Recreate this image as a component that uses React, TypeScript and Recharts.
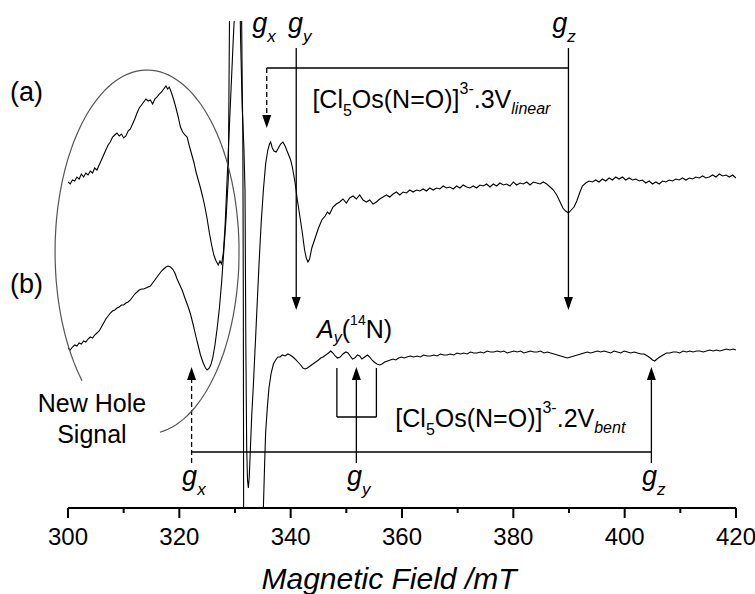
import React from "react";
import {
  LineChart,
  Line,
  XAxis,
  YAxis,
  ReferenceLine,
  ReferenceDot,
} from "recharts";

// EPR traces, [field in mT, signal in arbitrary units]
const traceA: [number, number][] = [
  [300.0, 326], [300.4, 324], [300.8, 328], [301.2, 327], [301.6, 331], [302.0, 329],
  [302.4, 334], [302.8, 331], [303.2, 335], [303.6, 333], [304.0, 337], [304.4, 335],
  [304.8, 340], [305.2, 338], [305.6, 343], [306.0, 348], [306.4, 353], [306.8, 358],
  [307.2, 363], [307.6, 366], [308.0, 371], [308.4, 373], [308.8, 375], [309.2, 372],
  [309.6, 374], [310.0, 370], [310.4, 372], [310.8, 377], [311.2, 379], [311.6, 384],
  [312.0, 389], [312.4, 395], [312.8, 400], [313.2, 403], [313.6, 406], [314.0, 409],
  [314.4, 407], [314.8, 408], [315.2, 404], [315.6, 409], [316.0, 411], [316.4, 414],
  [316.8, 416], [317.2, 419], [317.6, 422], [317.9, 419], [318.2, 421], [318.6, 415],
  [319.0, 408], [319.4, 400], [319.8, 391], [320.2, 381], [320.6, 376], [321.0, 373],
  [321.4, 371], [321.8, 362], [322.2, 354], [322.6, 346], [323.0, 336], [323.4, 328],
  [323.8, 320], [324.2, 311], [324.6, 301], [325.0, 289], [325.4, 275], [325.8, 263],
  [326.2, 253], [326.6, 247], [327.0, 243], [327.3, 247], [327.6, 244], [327.9, 255],
  [328.2, 280], [328.5, 318], [328.9, 370], [329.3, 420], [329.7, 470], [330.1, 515],
  [330.5, 560], [330.8, 540], [331.0, 470], [331.3, 400], [331.6, 360], [331.8, 318],
  [331.95, 160], [332.1, 60], [332.25, 28], [332.4, 20], [332.55, 30], [332.7, 50],
  [333.0, 92], [333.3, 123], [333.8, 182], [334.3, 242], [334.7, 285], [335.1, 318],
  [335.5, 344], [335.9, 358], [336.2, 364], [336.4, 366], [336.7, 360], [337.0, 357],
  [337.4, 356], [337.8, 360], [338.2, 364], [338.6, 366], [339.0, 362], [339.5, 355],
  [340.0, 348], [340.3, 341], [340.8, 325], [341.2, 308], [341.7, 290], [342.1, 275],
  [342.5, 258], [342.8, 250], [343.1, 246], [343.4, 249], [343.8, 260], [344.4, 270],
  [345.0, 280], [345.6, 288], [346.2, 292], [346.6, 296], [347.0, 294], [347.6, 301],
  [348.2, 304], [348.8, 306], [349.4, 309], [350.0, 305], [350.6, 310], [351.2, 312],
  [351.8, 309], [352.4, 313], [353.0, 308], [353.6, 306], [354.2, 308], [354.8, 304],
  [355.4, 306], [356.0, 309], [356.6, 311], [357.2, 313], [357.8, 311], [358.4, 314],
  [359.0, 316], [359.6, 313], [360.2, 316], [360.8, 315], [361.4, 318], [362.0, 316],
  [362.6, 318], [363.2, 317], [363.8, 319], [364.4, 317], [365.0, 320], [365.6, 318],
  [366.2, 320], [366.8, 319], [367.4, 322], [368.0, 320], [368.6, 321], [369.2, 319],
  [369.8, 322], [370.4, 320], [371.0, 323], [371.6, 321], [372.2, 320], [372.8, 322],
  [373.4, 320], [374.0, 323], [374.6, 322], [375.2, 324], [375.8, 321], [376.4, 324],
  [377.0, 322], [377.6, 325], [378.2, 323], [378.8, 324], [379.4, 322], [380.0, 326],
  [380.6, 323], [381.2, 325], [381.8, 324], [382.4, 326], [383.0, 323], [383.6, 326],
  [384.2, 325], [384.8, 324], [385.4, 326], [386.0, 324], [386.6, 321], [387.2, 318],
  [387.8, 313], [388.4, 306], [388.9, 300], [389.4, 297], [389.9, 295], [390.4, 298],
  [390.9, 301], [391.4, 307], [391.9, 315], [392.4, 322], [393.0, 325], [393.6, 327],
  [394.2, 326], [394.8, 328], [395.4, 326], [396.0, 329], [396.6, 327], [397.2, 330],
  [397.8, 328], [398.4, 331], [399.0, 329], [399.6, 331], [400.2, 328], [400.8, 330],
  [401.4, 328], [402.0, 329], [402.6, 327], [403.2, 328], [403.8, 325], [404.4, 327],
  [405.0, 324], [405.6, 326], [406.2, 324], [406.8, 327], [407.4, 326], [408.0, 328],
  [408.6, 327], [409.2, 329], [409.8, 328], [410.4, 330], [411.0, 328], [411.6, 330],
  [412.2, 329], [412.8, 331], [413.4, 330], [414.0, 332], [414.6, 330], [415.2, 331],
  [415.8, 333], [416.4, 331], [417.0, 334], [417.6, 332], [418.2, 333], [418.8, 331],
  [419.4, 333], [420.0, 330],
];

const traceB: [number, number][] = [
  [300.0, 160], [300.4, 158], [300.8, 161], [301.2, 163], [301.6, 162], [302.0, 165],
  [302.4, 164], [302.8, 167], [303.2, 166], [303.6, 169], [304.0, 171], [304.4, 170],
  [304.8, 173], [305.2, 175], [305.6, 177], [306.0, 181], [306.4, 185], [306.8, 189],
  [307.2, 192], [307.6, 195], [308.0, 197], [308.4, 198], [308.8, 200], [309.2, 201],
  [309.6, 203], [310.0, 203], [310.4, 205], [310.8, 206], [311.2, 208], [311.6, 211],
  [312.0, 214], [312.4, 216], [312.8, 218], [313.2, 219], [313.6, 219], [314.0, 220],
  [314.4, 221], [314.8, 222], [315.2, 225], [315.6, 228], [316.0, 231], [316.4, 234],
  [316.8, 237], [317.2, 239], [317.6, 241], [318.0, 242], [318.4, 241], [318.8, 239],
  [319.2, 235], [319.6, 229], [320.0, 224], [320.5, 218], [321.0, 210], [321.6, 201],
  [322.0, 194], [322.5, 183], [323.0, 171], [323.4, 162], [323.8, 153], [324.3, 145],
  [324.7, 140], [325.0, 138], [325.4, 140], [325.7, 144], [326.0, 150], [326.4, 163],
  [326.8, 180], [327.2, 200], [327.6, 226], [328.0, 258], [328.4, 290], [328.8, 330],
  [329.0, 480], [329.2, 650], [329.6, 900], [330.0, 1000], [330.4, 950], [330.8, 750],
  [331.1, 550], [331.3, 420], [331.4, 380], [331.5, 200], [331.55, 0], [331.8, -300],
  [332.5, -600], [333.3, -700], [334.0, -500], [334.6, -200], [335.0, -30], [335.1, 0],
  [335.3, 40], [335.5, 75], [335.8, 100], [336.1, 120], [336.5, 135], [336.9, 144],
  [337.3, 148], [337.7, 151], [338.1, 151], [338.5, 153], [339.0, 152], [339.5, 154],
  [339.9, 153], [340.4, 151], [340.8, 149], [341.3, 146], [341.8, 143], [342.2, 140],
  [342.6, 139], [343.0, 140], [343.5, 142], [344.0, 144], [344.5, 146], [345.0, 148],
  [345.4, 150], [345.8, 151], [346.3, 153], [346.8, 155], [347.2, 157], [347.6, 155],
  [348.0, 152], [348.4, 150], [348.9, 151], [349.4, 154], [349.9, 156], [350.3, 155],
  [350.7, 152], [351.1, 149], [351.5, 150], [352.0, 153], [352.4, 152], [352.8, 149],
  [353.3, 151], [353.8, 153], [354.2, 151], [354.6, 148], [355.0, 146], [355.5, 144],
  [356.0, 143], [356.4, 144], [356.9, 146], [357.4, 147], [357.9, 148], [358.4, 149],
  [358.9, 148], [359.4, 150], [359.9, 151], [360.4, 150], [360.9, 151], [361.5, 152],
  [362.1, 151], [362.7, 152], [363.3, 151], [363.9, 153], [364.5, 152], [365.1, 152],
  [365.7, 153], [366.3, 152], [366.9, 154], [367.5, 153], [368.1, 153], [368.7, 154],
  [369.3, 153], [369.9, 155], [370.5, 154], [371.1, 155], [371.7, 154], [372.3, 156],
  [372.9, 155], [373.5, 155], [374.1, 156], [374.7, 155], [375.3, 157], [375.9, 156],
  [376.5, 156], [377.1, 157], [377.7, 156], [378.3, 157], [378.9, 155], [379.5, 156],
  [380.1, 157], [380.7, 156], [381.3, 157], [381.9, 155], [382.5, 156], [383.1, 157],
  [383.7, 156], [384.3, 156], [384.9, 157], [385.5, 155], [386.1, 156], [386.7, 155],
  [387.3, 154], [387.9, 153], [388.5, 152], [389.1, 151], [389.7, 150], [390.3, 151],
  [390.9, 152], [391.5, 153], [392.1, 154], [392.7, 155], [393.3, 156], [393.9, 155],
  [394.5, 156], [395.1, 157], [395.7, 156], [396.3, 157], [396.9, 156], [397.5, 155],
  [398.1, 157], [398.7, 156], [399.3, 155], [399.9, 157], [400.5, 156], [401.1, 155],
  [401.7, 156], [402.3, 155], [402.9, 154], [403.5, 154], [404.1, 152], [404.6, 150],
  [405.0, 148], [405.4, 147], [405.8, 149], [406.3, 151], [406.9, 153], [407.5, 155],
  [408.1, 155], [408.7, 156], [409.3, 156], [409.9, 155], [410.5, 157], [411.1, 156],
  [411.7, 157], [412.3, 156], [412.9, 157], [413.5, 157], [414.1, 156], [414.7, 157],
  [415.3, 158], [415.9, 157], [416.5, 158], [417.1, 157], [417.7, 158], [418.3, 159],
  [418.9, 158], [419.5, 159], [420.0, 158],
];

const fieldTicks = [300, 310, 320, 330, 340, 350, 360, 370, 380, 390, 400, 410, 420];

// g-tensor positions (mT)
const gLinear = { x: 335.7, y: 341.0, z: 389.9 };
const gBent = { x: 322.2, y: 351.8, z: 404.8 };
const nitrogenSplit = [348.3, 355.4];

const dataA = traceA.map(([field, a]) => ({ field, a }));
const dataB = traceB.map(([field, b]) => ({ field, b }));

const FONT = "'Liberation Sans', Arial, Helvetica, sans-serif";

function FieldTick(props: any) {
  const { x, y, payload } = props;
  const major = payload.value % 20 === 0;
  return (
    <g>
      <line x1={x} x2={x} y1={y} y2={y + (major ? 10 : 5)} stroke="#000" strokeWidth={2} />
      {major && (
        <text x={x} y={y + 37} textAnchor="middle" fontSize={24} fontFamily={FONT} fill="#000">
          {payload.value}
        </text>
      )}
    </g>
  );
}

const arrow = (dashed: boolean) => (props: any) => {
  const { x1, y1, x2, y2 } = props;
  const len = Math.hypot(x2 - x1, y2 - y1) || 1;
  const dx = (x2 - x1) / len;
  const dy = (y2 - y1) / len;
  const bx = x2 - dx * 13;
  const by = y2 - dy * 13;
  const pts = `${x2},${y2} ${bx - dy * 4.5},${by + dx * 4.5} ${bx + dy * 4.5},${by - dx * 4.5}`;
  return (
    <g>
      <line x1={x1} y1={y1} x2={bx} y2={by} stroke="#000" strokeWidth={1.3}
        strokeDasharray={dashed ? "5 3" : undefined} />
      <polygon points={pts} fill="#000" />
    </g>
  );
};

const plainLine = (props: any) => (
  <line x1={props.x1} y1={props.y1} x2={props.x2} y2={props.y2} stroke="#000" strokeWidth={1.3} />
);

const gLabel = (axis: string) => (props: any) => (
  <text x={props.cx} y={props.cy} fontSize={27} fontStyle="italic" fontFamily={FONT} fill="#000">
    g<tspan fontSize={17} dy={10}>{axis}</tspan>
  </text>
);

const plainText = (label: string, anchor: string = "start", size = 25) => (props: any) => (
  <text x={props.cx} y={props.cy} fontSize={size} textAnchor={anchor} fontFamily={FONT} fill="#000">
    {label}
  </text>
);

const chemLabel = (count: string, kind: string) => (props: any) => (
  <text x={props.cx} y={props.cy} fontSize={25} fontFamily={FONT} fill="#000">
    [Cl<tspan fontSize={16} dy={8}>5</tspan>
    <tspan dy={-8}>Os(N=O)]</tspan>
    <tspan fontSize={16} dy={-14}>3-</tspan>
    <tspan dy={14}>.{count}V</tspan>
    <tspan fontSize={16} fontStyle="italic" dy={6}>{kind}</tspan>
  </text>
);

const hyperfineLabel = (props: any) => (
  <text x={props.cx} y={props.cy} fontSize={25} fontFamily={FONT} fill="#000">
    <tspan fontStyle="italic">A</tspan>
    <tspan fontSize={16} fontStyle="italic" dy={5}>y</tspan>
    <tspan dy={-5}>(</tspan>
    <tspan fontSize={14} dy={-13}>14</tspan>
    <tspan dy={13}>N)</tspan>
  </text>
);

// ellipse around the new hole signal, open at the lower left
const holeEllipse = (props: any) => {
  const rx = 92;
  const ry = 182;
  const t0 = (135 * Math.PI) / 180;
  const t1 = (442 * Math.PI) / 180;
  const pts: string[] = [];
  for (let i = 0; i <= 120; i++) {
    const t = t0 + ((t1 - t0) * i) / 120;
    pts.push(`${(props.cx + rx * Math.cos(t)).toFixed(1)},${(props.cy + ry * Math.sin(t)).toFixed(1)}`);
  }
  return <polyline points={pts.join(" ")} fill="none" stroke="#555" strokeWidth={1.2} />;
};

export default function App() {
  return (
    <div style={{ position: "absolute", left: 0, top: 0, background: "#fff" }}>
      <LineChart width={755} height={594} margin={{ top: 21, right: 19, left: 68, bottom: 0 }}>
        <XAxis
          dataKey="field"
          type="number"
          domain={[300, 420]}
          ticks={fieldTicks}
          interval={0}
          height={86}
          tickSize={0}
          tickMargin={0}
          tickLine={false}
          tick={<FieldTick />}
          axisLine={{ stroke: "#000", strokeWidth: 2 }}
          allowDataOverflow
          label={{
            content: (p: any) => (
              <text
                x={p.viewBox.x + p.viewBox.width / 2 - 13}
                y={p.viewBox.y + 81}
                textAnchor="middle"
                fontSize={30}
                fontStyle="italic"
                fontFamily={FONT}
                fill="#000"
              >
                Magnetic Field /mT
              </text>
            ),
          }}
        />
        <YAxis type="number" domain={[0, 487]} hide allowDataOverflow />

        <Line data={dataA} dataKey="a" stroke="#000" strokeWidth={1.1} dot={false} isAnimationActive={false} />
        <Line data={dataB} dataKey="b" stroke="#000" strokeWidth={1.1} dot={false} isAnimationActive={false} />

        {/* linear species */}
        <ReferenceLine ifOverflow="visible" segment={[{ x: gLinear.x, y: 440 }, { x: gLinear.z, y: 440 }]} shape={plainLine} />
        <ReferenceLine ifOverflow="visible" segment={[{ x: gLinear.x, y: 440 }, { x: gLinear.x, y: 380 }]} shape={arrow(true)} />
        <ReferenceLine ifOverflow="visible" segment={[{ x: gLinear.y, y: 460 }, { x: gLinear.y, y: 198 }]} shape={arrow(false)} />
        <ReferenceLine ifOverflow="visible" segment={[{ x: gLinear.z, y: 460 }, { x: gLinear.z, y: 198 }]} shape={arrow(false)} />
        <ReferenceDot ifOverflow="visible" x={333.1} y={476} shape={gLabel("x")} />
        <ReferenceDot ifOverflow="visible" x={339.5} y={476} shape={gLabel("y")} />
        <ReferenceDot ifOverflow="visible" x={387.0} y={476} shape={gLabel("z")} />
        <ReferenceDot ifOverflow="visible" x={343.9} y={400} shape={chemLabel("3", "linear")} />

        {/* bent species */}
        <ReferenceLine ifOverflow="visible" segment={[{ x: gBent.x, y: 56 }, { x: gBent.z, y: 56 }]} shape={plainLine} />
        <ReferenceLine ifOverflow="visible" segment={[{ x: gBent.x, y: 45 }, { x: gBent.x, y: 141 }]} shape={arrow(true)} />
        <ReferenceLine ifOverflow="visible" segment={[{ x: gBent.y, y: 45 }, { x: gBent.y, y: 141 }]} shape={arrow(false)} />
        <ReferenceLine ifOverflow="visible" segment={[{ x: gBent.z, y: 45 }, { x: gBent.z, y: 141 }]} shape={arrow(false)} />
        <ReferenceLine ifOverflow="visible" segment={[{ x: nitrogenSplit[0], y: 140 }, { x: nitrogenSplit[0], y: 91 }]} shape={plainLine} />
        <ReferenceLine ifOverflow="visible" segment={[{ x: nitrogenSplit[0], y: 91 }, { x: nitrogenSplit[1], y: 91 }]} shape={plainLine} />
        <ReferenceLine ifOverflow="visible" segment={[{ x: nitrogenSplit[1], y: 91 }, { x: nitrogenSplit[1], y: 140 }]} shape={plainLine} />
        <ReferenceDot ifOverflow="visible" x={320.5} y={23.5} shape={gLabel("x")} />
        <ReferenceDot ifOverflow="visible" x={350.1} y={23.5} shape={gLabel("y")} />
        <ReferenceDot ifOverflow="visible" x={403.1} y={23.5} shape={gLabel("z")} />
        <ReferenceDot ifOverflow="visible" x={344.75} y={170} shape={hyperfineLabel} />
        <ReferenceDot ifOverflow="visible" x={358.8} y={81} shape={chemLabel("2", "bent")} />

        {/* trace labels and the new hole signal */}
        <ReferenceDot ifOverflow="visible" x={289.6} y={407} shape={plainText("(a)", "start", 27)} />
        <ReferenceDot ifOverflow="visible" x={289.6} y={215.5} shape={plainText("(b)", "start", 27)} />
        <ReferenceDot ifOverflow="visible" x={314.2} y={256} shape={holeEllipse} />
        <ReferenceDot ifOverflow="visible" x={304.3} y={96} shape={plainText("New Hole", "middle")} />
        <ReferenceDot ifOverflow="visible" x={304.3} y={65} shape={plainText("Signal", "middle")} />
      </LineChart>
    </div>
  );
}
